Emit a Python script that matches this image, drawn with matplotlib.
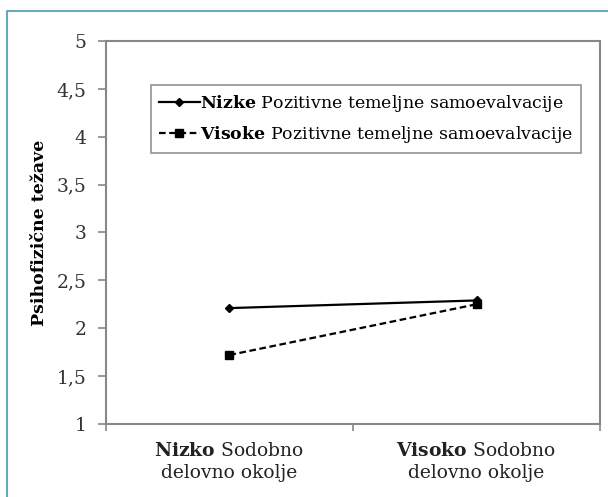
import matplotlib
matplotlib.use('Agg')
import matplotlib.pyplot as plt
from matplotlib.lines import Line2D

plt.rcParams['font.family'] = 'DejaVu Serif'
plt.rcParams['mathtext.fontset'] = 'custom'
plt.rcParams['mathtext.rm'] = 'DejaVu Serif'
plt.rcParams['mathtext.bf'] = 'DejaVu Serif:bold'

# data
okolje = ['Nizko', 'Visoko']
nizke = [2.21, 2.29]
visoke = [1.72, 2.25]
yticks = [1, 1.5, 2, 2.5, 3, 3.5, 4, 4.5, 5]

fig = plt.figure(figsize=(6.08, 4.97), dpi=100)
ax = fig.add_axes([0.174, 0.147, 0.813, 0.7705])

x = [0.5, 1.5]
ax.plot(x, nizke, color='black', lw=1.6, marker='D', markersize=4.5,
        label=r'$\mathbf{Nizke}$ Pozitivne temeljne samoevalvacije')
ax.plot(x, visoke, color='black', lw=1.6, ls=(0, (3, 1.6)), marker='s', markersize=5.5,
        label=r'$\mathbf{Visoke}$ Pozitivne temeljne samoevalvacije')

ax.set_xlim(0, 2)
ax.set_ylim(1, 5)
ax.set_yticks(yticks)
ax.set_yticklabels([str(v).replace('.', ',').replace(',0', '') for v in yticks])
ax.set_xticks([0, 1, 2])
ax.set_xticklabels([])
ax.set_xticks(x, minor=True)
ax.set_xticklabels([r'$\mathbf{%s}$ Sodobno' % k + '\ndelovno okolje' for k in okolje],
                   minor=True, linespacing=1.3)
ax.tick_params(axis='x', which='minor', length=0, pad=13, labelsize=13.5, labelcolor='#222222')
ax.tick_params(axis='x', which='major', length=5, color='#888888', width=1.2)
ax.tick_params(axis='y', length=6, width=1.2, pad=8, labelsize=13.5,
               labelcolor='#333333', color='#888888')
for s in ax.spines.values():
    s.set_color('#888888')
    s.set_linewidth(1.5)

ax.set_ylabel('Psihofizične težave', fontweight='bold', fontsize=12.5, labelpad=6)

leg = ax.legend(loc='upper left', bbox_to_anchor=(0.091, 0.885), borderaxespad=0,
                fontsize=12.5, frameon=True, fancybox=False, handlelength=2.4,
                handletextpad=0.0, borderpad=0.45, labelspacing=0.6)
leg.get_frame().set_edgecolor('#777777')
leg.get_frame().set_linewidth(1.2)

# light blue frame at top and left
fig.add_artist(Line2D([7/608, 7/608, 1], [0, 1 - 11/497, 1 - 11/497],
                      transform=fig.transFigure, color='#6aa8bd', lw=1.5))

fig.savefig('out.png', dpi=100)
